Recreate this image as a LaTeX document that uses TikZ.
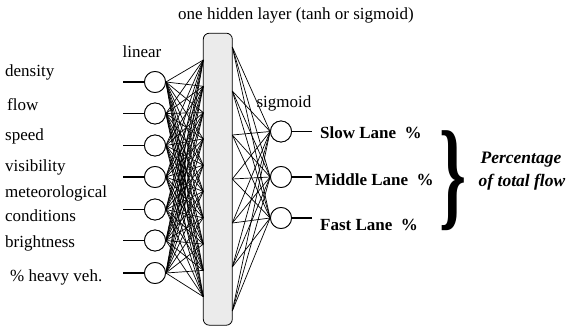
\documentclass[tikz,border=0pt]{standalone}
\usepackage{fontspec}
\setmainfont{Liberation Serif}
\usepackage{graphicx}
\begin{document}
\begin{tikzpicture}[x=1pt,y=-1pt,
  lbl/.style={font=\rmfamily\fontsize{17}{20}\selectfont, inner sep=0pt},
  neuron/.style={draw, circle, minimum size=21pt, inner sep=0pt, line width=0.8pt, fill=white},
  wire/.style={line width=0.7pt},
  io/.style={line width=1.1pt}]
\useasboundingbox (0,0) rectangle (568,329);
% hidden layer bar
\node[draw, line width=0.8pt, fill=black!8, rounded corners=6pt, minimum width=29pt, minimum height=292pt, inner sep=0pt] (hid) at (217.8,179.2) {};
\foreach \j in {1,...,10} \coordinate (hl\j) at (203.3,{60+26.3*(\j-1)});
\foreach \j in {1,...,7} \coordinate (hr\j) at (232.3,{47+44*(\j-1)});
% input neurons
\foreach \k/\y in {1/82,2/113.5,3/145.5,4/177,5/209.5,6/240.5,7/273} {
  \node[neuron] (i\k) at (155,\y) {};
  \coordinate (s\k) at (123,\y);
  \draw[io] (s\k) -- (i\k);
}
\foreach \k in {1,...,7} \foreach \j in {1,...,10} \draw[wire] (i\k.east) -- (hl\j);
% output neurons
\foreach \k/\y in {1/131.5,2/177,3/218} {
  \node[neuron] (o\k) at (281,\y) {};
  \coordinate (e\k) at (312,\y);
  \draw[io] (o\k) -- (e\k);
}
\foreach \k in {1,...,3} \foreach \j in {1,...,7} \draw[wire] (hr\j) -- (o\k.west);
\foreach \k in {1,...,7} \node[neuron] at (i\k) {};
\foreach \k in {1,...,3} \node[neuron] at (o\k) {};
% labels
\node[lbl] (title) at (296,15) {one hidden layer (tanh or sigmoid)};
\node[lbl] (lin) at (142,52) {linear};
\node[lbl] (sig) at (284,103) {sigmoid};
\node[lbl, anchor=west] (l1) at (5,72) {density};
\node[lbl, anchor=west] (l2) at (7,105) {flow};
\node[lbl, anchor=west] (l3) at (5,136) {speed};
\node[lbl, anchor=west] (l4) at (5,167) {visibility};
\node[lbl, anchor=west] (l5) at (5,193) {meteorological};
\node[lbl, anchor=west] (l5b) at (5,216) {conditions};
\node[lbl, anchor=west] (l6) at (5,243) {brightness};
\node[lbl, anchor=west] (l7) at (10,277) {\% heavy veh.};
\node[lbl, anchor=west, font=\rmfamily\fontsize{17}{20}\selectfont\bfseries] (r1) at (320,133) {Slow Lane~~\%};
\node[lbl, anchor=west, font=\rmfamily\fontsize{17}{20}\selectfont\bfseries] (r2) at (315,180) {Middle Lane~~\%};
\node[lbl, anchor=west, font=\rmfamily\fontsize{17}{20}\selectfont\bfseries] (r3) at (320,225) {Fast Lane~~\%};
\node[inner sep=0pt] (brace) at (453,181) {\resizebox*{27pt}{100pt}{\rmfamily\bfseries\}}};
\node[lbl, font=\rmfamily\fontsize{17.5}{20}\selectfont\bfseries\itshape] (p1) at (521,160) {Percentage};
\node[lbl, font=\rmfamily\fontsize{17.5}{20}\selectfont\bfseries\itshape] (p2) at (522,182) {of total flow};
\end{tikzpicture}
\end{document}
